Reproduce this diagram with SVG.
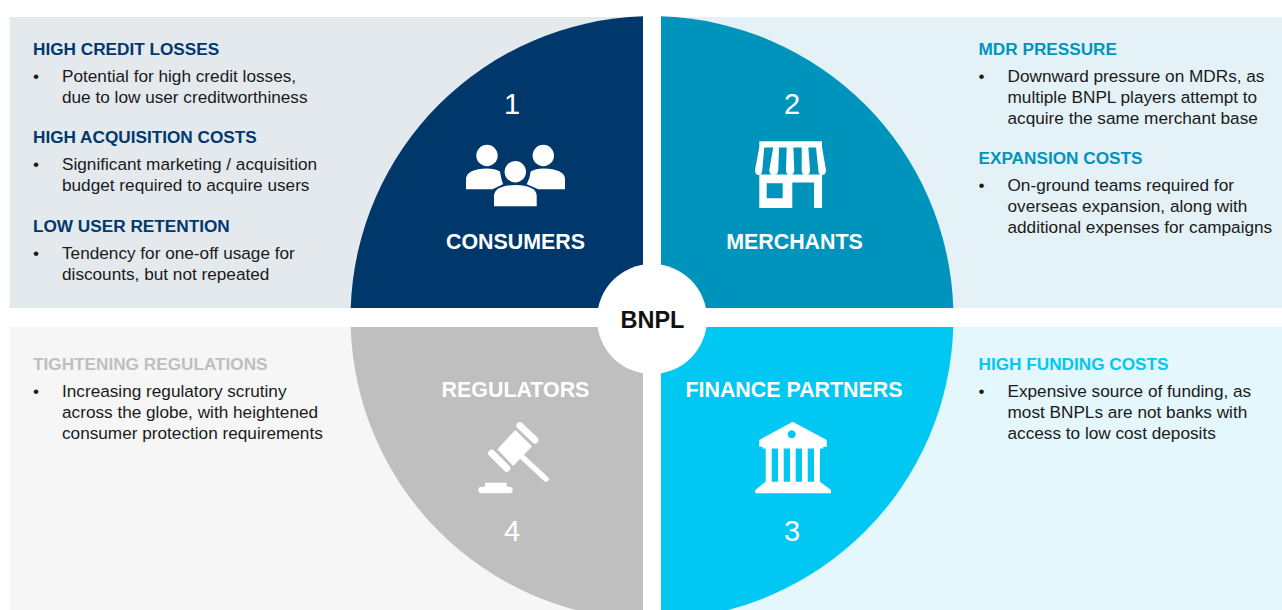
<svg xmlns="http://www.w3.org/2000/svg" width="1282" height="610" viewBox="0 0 1282 610">
<style>
text{font-family:"Liberation Sans",Arial,sans-serif}
.h{font-size:17.2px;font-weight:700}
.b{font-size:17.2px;fill:#1a1a1a}
.t{font-size:21.4px;font-weight:700;fill:#fff;text-anchor:middle}
.n{font-size:29px;fill:#fff;text-anchor:middle}
.i{fill:#fff}
</style>
<defs><clipPath id="page"><rect x="0" y="0" width="1282" height="610"/></clipPath></defs>
<g id="panels">
<rect x="9.500" y="17" width="633.500" height="291" fill="#e4e9ee"/>
<rect x="661" y="17" width="621" height="291" fill="#e4f2f7"/>
<rect x="9.500" y="327" width="633.500" height="283" fill="#f6f6f6"/>
<rect x="661" y="327" width="621" height="283" fill="#e3f7fc"/>
</g>
<g id="consumers">
<path d="M643 308H350.700A301.800 301.800 0 0 1 643 16.300Z" fill="#00386c"/>
<text class="n" x="512" y="114">1</text>
<g class="i">
<circle cx="487" cy="155.500" r="10.700"/><circle cx="543.300" cy="155.500" r="10.700"/><circle cx="515.300" cy="171.700" r="10.700"/>
<path d="M466 189.300V178.500Q467 169 487 168.500Q495 168.500 500 171.500Q501 178.500 503 184.300L492.500 189.300Z"/>
<path d="M565 189.300V178.500Q564 169 543.500 168.500Q535.500 168.500 530.700 171.500Q530 178.500 526.700 184.300L538.300 189.300Z"/>
<path d="M494 206.300V195.500Q495 185.500 515.500 185Q536 185.500 536.700 195.500V206.300Z"/>
</g>
<text class="t" x="515.500" y="248.500">CONSUMERS</text>
</g>
<g id="merchants">
<path d="M661 308H953.300A301.800 301.800 0 0 0 661 16.300Z" fill="#0094bd"/>
<text class="n" x="792" y="114">2</text>
<g class="i">
<rect x="759.300" y="141.300" width="62.700" height="6.200"/>
<path d="M759.300 147H764.300L762.300 170Q762 175 758.500 175Q755 175 755 170Z"/>
<path d="M773.300 147H779L778.300 170Q778 175 773.800 175Q769.300 175 769.300 170Z"/>
<path d="M786.700 147H793.300L794.300 170Q794 175 790 175Q786 175 786 170Z"/>
<path d="M801.700 147H808.300L810 170Q810 175 806 175Q801.700 175 801.700 170Z"/>
<path d="M816 147H822L826 170Q826 175 822 175Q818.300 175 818.300 170Z"/>
<path fill-rule="evenodd" d="M759.300 174.500H822V208H814V182.500H792.300V208H759.300ZM766.700 183.300V198.300H782.700V183.300Z"/>
</g>
<text class="t" x="794.500" y="248.500">MERCHANTS</text>
</g>
<g id="regulators" clip-path="url(#page)">
<path d="M643 327H350.700A301.800 301.800 0 0 0 643 619.700Z" fill="#bfbfbf"/>
<text class="t" x="515.500" y="396.500">REGULATORS</text>
<g class="i">
<path d="M515.300 430L532 446.300L513.300 466L497.300 449.300Z"/>
<path d="M520 425.700L535 440M491.700 453.300L506.700 468.300" stroke="#fff" stroke-width="7" stroke-linecap="round" fill="none"/>
<path d="M520 455L546 479" stroke="#fff" stroke-width="5.500" stroke-linecap="round" fill="none"/>
<rect x="478.300" y="486.700" width="34.400" height="6.600" rx="3.300"/>
<rect x="485" y="482.700" width="21.700" height="5"/>
</g>
<text class="n" x="512" y="541">4</text>
</g>
<g id="finance" clip-path="url(#page)">
<path d="M661 327H953.300A301.800 301.800 0 0 1 661 619.700Z" fill="#00c8f2"/>
<text class="t" x="794" y="396.500">FINANCE PARTNERS</text>
<g class="i">
<path fill-rule="evenodd" d="M792.700 421.700L826.700 440V446.700H823.300V448.500H762.700V446.700H759.300V440ZM791.700 430.300a4 4 0 1 0 .01 0Z"/>
<rect x="765.700" y="448" width="6" height="34"/><rect x="778" y="448" width="5.700" height="34"/><rect x="790" y="448" width="5.700" height="34"/><rect x="802" y="448" width="5.700" height="34"/><rect x="814" y="448" width="6" height="34"/>
<path d="M765.700 481.700H820L831 490V493.300H755.300V490Z"/>
</g>
<text class="n" x="792" y="541">3</text>
</g>
<g id="bnpl">
<circle cx="652" cy="319" r="55" fill="#fff"/>
<text x="652.500" y="328" font-size="23.500" font-weight="700" text-anchor="middle" fill="#111">BNPL</text>
</g>
<g id="text-consumers">
<text class="h" x="33" y="55" fill="#00386c">HIGH CREDIT LOSSES</text>
<text class="b" x="33" y="81.700">•</text><text class="b" x="62" y="81.700">Potential for high credit losses,</text><text class="b" x="62" y="102.700">due to low user creditworthiness</text>
<text class="h" x="33" y="143" fill="#00386c">HIGH ACQUISITION COSTS</text>
<text class="b" x="33" y="169.700">•</text><text class="b" x="62" y="169.700">Significant marketing / acquisition</text><text class="b" x="62" y="190.700">budget required to acquire users</text>
<text class="h" x="33" y="232" fill="#00386c">LOW USER RETENTION</text>
<text class="b" x="33" y="258.700">•</text><text class="b" x="62" y="258.700">Tendency for one-off usage for</text><text class="b" x="62" y="279.700">discounts, but not repeated</text>
</g>
<g id="text-merchants">
<text class="h" x="978.500" y="55" fill="#0094bd">MDR PRESSURE</text>
<text class="b" x="978.500" y="81.700">•</text><text class="b" x="1007.500" y="81.700">Downward pressure on MDRs, as</text><text class="b" x="1007.500" y="102.700">multiple BNPL players attempt to</text><text class="b" x="1007.500" y="123.700">acquire the same merchant base</text>
<text class="h" x="978.500" y="164" fill="#0094bd">EXPANSION COSTS</text>
<text class="b" x="978.500" y="190.700">•</text><text class="b" x="1007.500" y="190.700">On-ground teams required for</text><text class="b" x="1007.500" y="211.700">overseas expansion, along with</text><text class="b" x="1007.500" y="232.700">additional expenses for campaigns</text>
</g>
<g id="text-regulators">
<text class="h" x="33" y="370" fill="#bfbfbf">TIGHTENING REGULATIONS</text>
<text class="b" x="33" y="396.700">•</text><text class="b" x="62" y="396.700">Increasing regulatory scrutiny</text><text class="b" x="62" y="417.700">across the globe, with heightened</text><text class="b" x="62" y="438.700">consumer protection requirements</text>
</g>
<g id="text-finance">
<text class="h" x="978.500" y="370" fill="#00c8f2">HIGH FUNDING COSTS</text>
<text class="b" x="978.500" y="396.700">•</text><text class="b" x="1007.500" y="396.700">Expensive source of funding, as</text><text class="b" x="1007.500" y="417.700">most BNPLs are not banks with</text><text class="b" x="1007.500" y="438.700">access to low cost deposits</text>
</g>
</svg>
